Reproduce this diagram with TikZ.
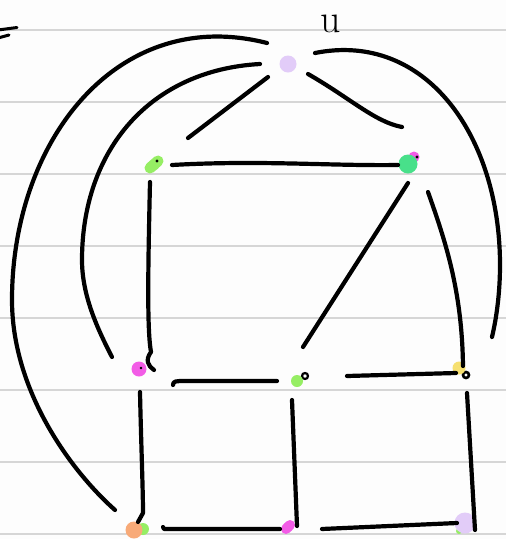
\documentclass[tikz,border=0pt]{standalone}
\usetikzlibrary{calc}
\definecolor{paper}{HTML}{FDFDFD}
\definecolor{rulegray}{HTML}{D6D6D6}
\definecolor{lav}{HTML}{E2CCF8}
\definecolor{lgreen}{HTML}{96EE64}
\definecolor{mgreen}{HTML}{48E08A}
\definecolor{mag}{HTML}{F25CE6}
\definecolor{yel}{HTML}{F6E070}
\definecolor{ora}{HTML}{F8AA78}
\begin{document}
\begin{tikzpicture}[x=1pt,y=-1pt,
  ink/.style={line width=4.2pt,line cap=round,line join=round,black},
  vtx/.style={circle,inner sep=0pt,minimum size=#1,draw=none},
  ruled/.style={rulegray,line width=2.4pt}]
\useasboundingbox (0,0) rectangle (506,539);
\fill[paper] (0,0) rectangle (506,539);
% lined paper
\foreach \yy in {30,102,174,246,318,390,462,534}
  \draw[ruled] (0,\yy) -- (506,\yy);
% stray mark at the top left
\draw[ink,line width=3pt] (-2,30) -- (17,27.5);
\draw[ink,line width=3pt] (-2,38) -- (9,35);
% vertices
\node[vtx=17pt,fill=lav] (u) at (288,64) {};
\node[font=\fontsize{40}{40}\selectfont,inner sep=0pt,anchor=base] (ulabel) at (331,32) {u};
\draw[lgreen,line width=11pt,line cap=round] (150,168) -- (158,161);
\node[vtx=11pt,fill=lgreen] (A) at (154,165) {};
\fill[black] (157,161) circle (1.6);
\fill[mag] (414,157) circle (5.5);
\node[vtx=19pt,fill=mgreen] (B) at (408,164) {};
\fill[black] (417,157) circle (1.6);
\node[vtx=15pt,fill=mag] (C) at (139,369) {};
\fill[black] (141,368) circle (1.4);
\draw[black,line width=2.2pt] (305,376) circle (3);
\node[vtx=12pt,fill=lgreen] (D) at (297,381) {};
\draw[black,line width=2.6pt] (466,375) circle (3);
\node[vtx=13pt,fill=yel] (E) at (459,368) {};
\fill[lgreen] (143,529) circle (6);
\node[vtx=17pt,fill=ora] (F) at (134,530) {};
\draw[mag,line width=10pt,line cap=round] (286,529) -- (290,525);
\node[vtx=10pt,fill=mag] (G) at (288,527) {};
\fill[lgreen] (459,531) circle (3);
\node[vtx=21pt,fill=lav] (H) at (465,523) {};
% edges
\draw[ink] ($(u)+(-20,13)$) -- ($(A)+(34,-27)$);
\draw[ink] ($(u)+(20,10)$) .. controls (350,98) and (375,122) .. ($(B)+(-6,-37)$);
\draw[ink] ($(A)+(18,0)$) .. controls (260,160) and (330,166) .. ($(B)+(-10,1)$);
\draw[ink] ($(B)+(0,19)$) -- ($(D)+(6,-34)$);
\draw[ink] ($(B)+(20,28)$) .. controls (445,240) and (462,290) .. ($(E)+(4,-2)$);
\draw[ink] ($(A)+(-4,17)$) .. controls (148,270) and (147,330) .. (151,352)
   .. controls (145,360) and (148,366) .. ($(C)+(15,1)$);
\draw[ink] ($(C)+(34,16)$) .. controls (173,381) and (176,381) .. (185,381) -- ($(D)+(-20,0)$);
\draw[ink] ($(D)+(50,-5)$) -- ($(E)+(-3,5)$);
\draw[ink] ($(C)+(1,23)$) .. controls (141,440) and (143,490) .. (143,513) -- ($(F)+(4,-8)$);
\draw[ink] ($(D)+(-5,19)$) -- ($(G)+(9,-1)$);
\draw[ink] ($(E)+(8,25)$) -- ($(H)+(10,7)$);
\draw[ink] ($(F)+(29,-3)$) -- ($(F)+(30,-1)$) -- ($(G)+(-8,2)$);
\draw[ink] ($(G)+(34,2)$) -- ($(H)+(-8,0)$);
% long curved edges
\draw[ink] ($(u)+(-21,-21)$) .. controls (118,5) and (12,140) .. (12,300)
   .. controls (12,390) and (70,470) .. ($(F)+(-19,-20)$);
\draw[ink] ($(u)+(-28,0)$) .. controls (150,70) and (82,150) .. (82,260)
   .. controls (82,295) and (97,328) .. ($(C)+(-27,-12)$);
\draw[ink] ($(u)+(27,-11)$) .. controls (425,31) and (500,135) .. (500,265)
   .. controls (500,295) and (496,320) .. ($(E)+(33,-31)$);
\end{tikzpicture}
\end{document}
